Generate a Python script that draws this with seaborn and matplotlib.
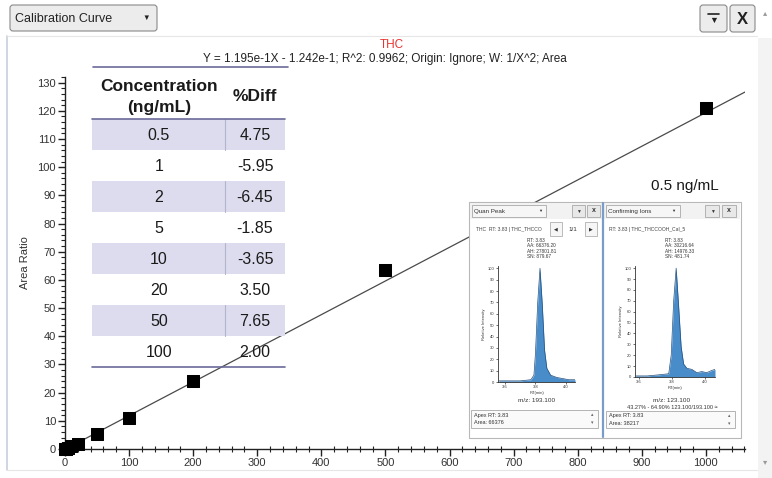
import numpy as np
import matplotlib
matplotlib.use('Agg')
import matplotlib.pyplot as plt
import seaborn as sns
from matplotlib.patches import Rectangle, FancyBboxPatch
from matplotlib.ticker import MultipleLocator

# calibration points (ng/mL vs area ratio)
cal_conc = [0.5, 1, 2, 5, 10, 20, 50, 100, 200, 500, 1000]
area_ratio = [0.05, 0.1, 0.15, 0.5, 1.0, 1.8, 5.4, 11.0, 24.0, 63.5, 121.0]
fit_slope = 0.1195
fit_intercept = -0.1242

# %Diff table
table_conc = ['0.5', '1', '2', '5', '10', '20', '50', '100']
table_diff = ['4.75', '-5.95', '-6.45', '-1.85', '-3.65', '3.50', '7.65', '2.00']

# chromatograms of the 0.5 ng/mL sample
quan_rt = [3.56, 3.70, 3.77, 3.79, 3.80, 3.815, 3.83, 3.845, 3.86, 3.875, 3.90, 3.94, 3.98, 4.02, 4.06]
quan_int = [1, 1, 2, 6, 25, 70, 100, 68, 28, 12, 6, 4, 3, 2, 2]
conf_rt = [3.58, 3.65, 3.72, 3.78, 3.795, 3.81, 3.825, 3.84, 3.855, 3.87, 3.89, 3.92, 3.95, 3.98, 4.01, 4.04, 4.06]
conf_int = [1, 1, 2, 3, 20, 70, 100, 65, 28, 12, 8, 7, 4, 5, 4, 6, 7]

sns.set_theme(style='white')
plt.rcParams['font.family'] = ['Liberation Sans', 'DejaVu Sans']

W, H = 772, 478
fig = plt.figure(figsize=(W / 100, H / 100), dpi=100)
fig.patch.set_facecolor('white')


def px_axes(x0, y0, x1, y1, **kw):
    # axes placed by pixel box (top-left origin)
    return fig.add_axes([x0 / W, 1 - y1 / H, (x1 - x0) / W, (y1 - y0) / H], **kw)


# main calibration plot
ax = px_axes(65, 77, 745, 449, zorder=1)
ax.set_facecolor('none')
ax.axline((0, fit_intercept), slope=fit_slope, color='#4a4a4a', lw=0.9, zorder=2)
sns.scatterplot(x=cal_conc, y=area_ratio, marker='s', s=85, color='black',
                edgecolor='black', ax=ax, zorder=3, clip_on=False)
ax.set_xlim(0, 1061)
ax.set_ylim(0, 132)
ax.xaxis.set_major_locator(MultipleLocator(100))
ax.xaxis.set_minor_locator(MultipleLocator(20))
ax.yaxis.set_major_locator(MultipleLocator(10))
ax.yaxis.set_minor_locator(MultipleLocator(2))
ax.set_yticks(range(0, 131, 10))
for s in ['top', 'right']:
    ax.spines[s].set_visible(False)
for s in ['left', 'bottom']:
    ax.spines[s].set_color('#222222')
    ax.spines[s].set_linewidth(1.0)
ax.tick_params(which='major', direction='out', length=5, width=1, color='#222222',
               labelsize=8, labelcolor='#333333', pad=1.5, left=True, bottom=True)
ax.tick_params(axis='y', which='minor', direction='out', length=3, width=0.8,
               color='#222222', left=True)
ax.tick_params(axis='x', which='minor', direction='inout', length=4, width=0.8,
               color='#222222', bottom=True)
ax.set_ylabel('Area Ratio', fontsize=8, color='#333333', labelpad=5)
ax.set_xlabel('')

# overlay for the window chrome, table and inset panels (pixel coords)
ui = fig.add_axes([0, 0, 1, 1], zorder=2)
ui.set_xlim(0, W)
ui.set_ylim(H, 0)
ui.axis('off')


def box(x0, y0, x1, y1, fc='white', ec='#a0a0a0', lw=0.8, rounded=False, z=2):
    if rounded:
        p = FancyBboxPatch((x0, y0), x1 - x0, y1 - y0, boxstyle='round,pad=0,rounding_size=3',
                           fc=fc, ec=ec, lw=lw, zorder=z)
    else:
        p = Rectangle((x0, y0), x1 - x0, y1 - y0, fc=fc, ec=ec, lw=lw, zorder=z)
    ui.add_patch(p)


# window chrome
ui.plot([7, 7], [36, 470], color='#c8d0dc', lw=1.2)
ui.plot([7, 757], [36, 36], color='#e6e6e6', lw=0.8)
ui.plot([7, 757], [470, 470], color='#e6e6e6', lw=0.8)
box(758, 38, 772, 478, fc='#f3f3f3', ec='none')
ui.text(765, 14, '▴', fontsize=6, color='#999999', ha='center', va='center')
ui.text(765, 463, '▾', fontsize=6, color='#999999', ha='center', va='center')
box(10, 5, 157, 31, fc='#ececec', ec='#8a8a8a', rounded=True)
ui.text(15, 18.5, 'Calibration Curve', fontsize=9, color='#222222', va='center')
ui.text(146, 18, '▼', fontsize=5.5, color='#222222', ha='center', va='center')
box(700, 5, 727, 32, fc='#ececec', ec='#8a8a8a', rounded=True)
ui.plot([708, 719], [14, 14], color='#222222', lw=1.2)
ui.text(713.5, 20, '▼', fontsize=6.5, color='#222222', ha='center', va='center')
box(730, 5, 755, 32, fc='#ececec', ec='#8a8a8a', rounded=True)
ui.text(742.5, 19, 'X', fontsize=12, fontweight='bold', color='#222222', ha='center', va='center')

# titles
ui.text(392, 45, 'THC', fontsize=8.5, color='#e8332f', ha='center', va='center')
ui.text(385, 59, "Y = 1.195e-1X - 1.242e-1; R^2: 0.9962; Origin: Ignore; W: 1/X^2; Area",
        fontsize=8.5, color='#222222', ha='center', va='center')

# %Diff table
tx0, tsplit, tx1 = 92, 225, 285
row_top, row_h = 119, 31
line_col = '#6a6a9a'
ui.plot([93, 288], [67, 67], color=line_col, lw=1.2)
ui.text(159, 86, 'Concentration', fontsize=12.5, fontweight='bold', color='#1a1a1a',
        ha='center', va='center')
ui.text(159, 107, '(ng/mL)', fontsize=12.5, fontweight='bold', color='#1a1a1a',
        ha='center', va='center')
ui.text(255, 96, '%Diff', fontsize=12.5, fontweight='bold', color='#1a1a1a',
        ha='center', va='center')
for i, (c, d) in enumerate(zip(table_conc, table_diff)):
    y0 = row_top + i * row_h
    if i % 2 == 0:
        box(tx0, y0, tx1, y0 + row_h, fc='#dcdcee', ec='none', z=1)
        ui.plot([tsplit, tsplit], [y0, y0 + row_h], color='#b4b4cc', lw=0.8, zorder=1.5)
    ui.text(159, y0 + row_h / 2 + 1, c, fontsize=11.5, color='#1a1a1a', ha='center', va='center')
    ui.text(255, y0 + row_h / 2 + 1, d, fontsize=11.5, color='#1a1a1a', ha='center', va='center')
ui.plot([tx0, tx1], [row_top, row_top], color=line_col, lw=1.2)
ui.plot([tx0, tx1], [row_top + 8 * row_h, row_top + 8 * row_h], color=line_col, lw=1.2)

ui.text(685, 186, '0.5 ng/mL', fontsize=11, color='#1a1a1a', ha='center', va='center')

# inset panels
box(469, 202, 741, 438, fc='white', ec='#b8b8b8', lw=0.8)
ui.plot([603, 603], [203, 437], color='#7a9cc8', lw=1.6, zorder=3)
for (hx0, hx1) in [(470, 602), (604, 740)]:
    box(hx0, 203, hx1, 219, fc='#f2f2f2', ec='none')

# left panel header
box(472, 205, 546, 217, fc='#f6f6f6', ec='#a8a8a8', lw=0.6)
ui.text(474, 211, 'Quan Peak', fontsize=4.5, color='#333333', va='center')
ui.text(540, 211, '▼', fontsize=3, color='#333333', ha='center', va='center')
box(572, 205, 585, 217, fc='#e8e8e8', ec='#a8a8a8', lw=0.6)
ui.text(578.5, 211, '▼', fontsize=3.5, color='#333333', ha='center', va='center')
box(587, 205, 600, 217, fc='#e8e8e8', ec='#a8a8a8', lw=0.6)
ui.text(593.5, 211, 'x', fontsize=5, fontweight='bold', color='#333333', ha='center', va='center')
ui.text(476, 229, 'THC  RT: 3.83 | THC_THCCO', fontsize=3.6, color='#444444', va='center')
box(550, 222, 562, 236, fc='#f6f6f6', ec='#b0b0b0', lw=0.6)
ui.text(556, 229, '◀', fontsize=3.5, color='#333333', ha='center', va='center')
ui.text(573, 229, '1/1', fontsize=4.5, color='#333333', ha='center', va='center')
box(585, 222, 597, 236, fc='#f6f6f6', ec='#b0b0b0', lw=0.6)
ui.text(591, 229, '▶', fontsize=3.5, color='#333333', ha='center', va='center')
ui.text(527, 238, 'RT: 3.83\nAA: 66376.20\nAH: 27801.81\nSN: 879.67', fontsize=3.4,
        color='#333333', va='top', linespacing=1.1)
ui.text(537, 401, 'm/z: 193.100', fontsize=4.6, color='#333333', ha='center', va='center')
box(471, 410, 598, 428, fc='#fafafa', ec='#a8a8a8', lw=0.6)
ui.text(474, 415, 'Apex RT: 3.83', fontsize=4, color='#333333', va='center')
ui.text(474, 423, 'Area: 66376', fontsize=4, color='#333333', va='center')
ui.text(592, 415, '▴', fontsize=3.5, color='#666666', ha='center', va='center')
ui.text(592, 423, '▾', fontsize=3.5, color='#666666', ha='center', va='center')

# right panel header
box(606, 205, 680, 217, fc='#f6f6f6', ec='#a8a8a8', lw=0.6)
ui.text(608, 211, 'Confirming Ions', fontsize=4.5, color='#333333', va='center')
ui.text(673, 211, '▼', fontsize=3, color='#333333', ha='center', va='center')
box(705, 205, 719, 217, fc='#e8e8e8', ec='#a8a8a8', lw=0.6)
ui.text(712, 211, '▼', fontsize=3.5, color='#333333', ha='center', va='center')
box(722, 205, 736, 217, fc='#e8e8e8', ec='#a8a8a8', lw=0.6)
ui.text(729, 211, 'x', fontsize=5, fontweight='bold', color='#333333', ha='center', va='center')
ui.text(609, 229, 'RT: 3.83 | THC_THCCOOH_Cal_5', fontsize=3.6, color='#444444', va='center')
ui.text(665, 238, 'RT: 3.83\nAA: 30216.64\nAH: 14976.33\nSN: 481.74', fontsize=3.4,
        color='#333333', va='top', linespacing=1.1)
ui.text(672, 401, 'm/z: 123.100', fontsize=4.6, color='#333333', ha='center', va='center')
ui.text(672, 407.5, '43.27% - 64.90% 123.100/193.100 \u2248', fontsize=4, color='#333333',
        ha='center', va='center')
box(606, 411, 735, 428, fc='#fafafa', ec='#a8a8a8', lw=0.6)
ui.text(609, 415.5, 'Apex RT: 3.83', fontsize=4, color='#333333', va='center')
ui.text(609, 423.5, 'Area: 38217', fontsize=4, color='#333333', va='center')
ui.text(729, 415.5, '▴', fontsize=3.5, color='#666666', ha='center', va='center')
ui.text(729, 423.5, '▾', fontsize=3.5, color='#666666', ha='center', va='center')


def chrom(box_px, rt, inten, xlim):
    cax = px_axes(*box_px, zorder=3)
    cax.set_facecolor('none')
    cax.fill_between(rt, inten, 0, color='#3f86c8', alpha=0.95, lw=0)
    sns.lineplot(x=rt, y=inten, ax=cax, color='#24507e', lw=0.5)
    cax.set_xlim(*xlim)
    cax.set_ylim(0, 102)
    cax.set_xticks([3.6, 3.8, 4.0])
    cax.set_yticks(range(0, 101, 10))
    for s in ['top', 'right']:
        cax.spines[s].set_visible(False)
    for s in ['left', 'bottom']:
        cax.spines[s].set_linewidth(0.6)
        cax.spines[s].set_color('#333333')
    cax.tick_params(direction='out', length=1.5, width=0.5, labelsize=3, pad=1,
                    colors='#333333', left=True, bottom=True)
    cax.set_xlabel('RT(min)', fontsize=3, color='#333333', labelpad=1)
    cax.set_ylabel('Relative Intensity', fontsize=3, color='#333333', labelpad=1)
    return cax


chrom((498, 266, 575, 382), quan_rt, quan_int, (3.554, 4.06))
chrom((635, 266, 715, 377), conf_rt, conf_int, (3.576, 4.06))

fig.savefig('out.png', dpi=100)
